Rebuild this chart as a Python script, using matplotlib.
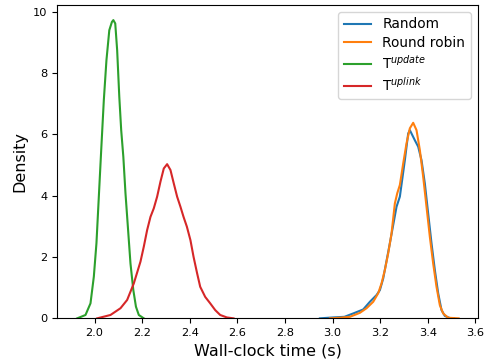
import matplotlib
matplotlib.use("Agg")
import matplotlib.pyplot as plt

# density curves (x in seconds, y = density)
random_x = [2.947, 3.003, 3.050, 3.087, 3.129, 3.157, 3.185, 3.199, 3.213, 3.241,
            3.269, 3.283, 3.304, 3.318, 3.325, 3.346, 3.360, 3.374, 3.388, 3.402,
            3.416, 3.430, 3.444, 3.458, 3.472, 3.493, 3.510]
random_y = [0.0, 0.03, 0.05, 0.16, 0.29, 0.54, 0.76, 0.92, 1.30, 2.45,
            3.64, 3.97, 5.16, 6.03, 6.14, 5.81, 5.60, 5.16, 4.40, 3.42,
            2.45, 1.58, 0.82, 0.27, 0.08, 0.01, 0.0]

rr_x = [2.989, 3.031, 3.073, 3.115, 3.143, 3.171, 3.192, 3.206, 3.220, 3.234,
        3.248, 3.262, 3.272, 3.283, 3.297, 3.311, 3.325, 3.339, 3.353, 3.367,
        3.381, 3.395, 3.409, 3.423, 3.437, 3.451, 3.465, 3.486, 3.530]
rr_y = [0.0, 0.02, 0.05, 0.18, 0.33, 0.54, 0.82, 1.14, 1.58, 2.12,
        2.77, 3.75, 4.08, 4.35, 5.05, 5.71, 6.20, 6.38, 6.14, 5.49,
        4.62, 3.64, 2.66, 1.79, 1.03, 0.43, 0.16, 0.02, 0.0]

update_x = [1.927, 1.962, 1.983, 1.997, 2.008, 2.018, 2.028, 2.039, 2.050, 2.062,
            2.073, 2.079, 2.087, 2.095, 2.104, 2.112, 2.121, 2.130, 2.140, 2.151,
            2.163, 2.174, 2.186, 2.207]
update_y = [0.0, 0.11, 0.49, 1.36, 2.45, 3.97, 5.49, 7.12, 8.42, 9.40,
            9.67, 9.73, 9.62, 8.75, 7.23, 6.14, 5.27, 4.08, 2.99, 1.79,
            0.92, 0.38, 0.11, 0.0]

uplink_x = [2.011, 2.067, 2.109, 2.137, 2.165, 2.193, 2.207, 2.221, 2.235, 2.249,
            2.263, 2.277, 2.291, 2.305, 2.319, 2.333, 2.347, 2.361, 2.374, 2.388,
            2.403, 2.416, 2.431, 2.444, 2.465, 2.486, 2.507, 2.528, 2.556, 2.584]
uplink_y = [0.0, 0.11, 0.33, 0.60, 1.14, 1.85, 2.34, 2.88, 3.31, 3.59,
            3.97, 4.46, 4.89, 5.03, 4.84, 4.40, 3.97, 3.64, 3.31, 2.99,
            2.55, 2.01, 1.47, 1.03, 0.70, 0.49, 0.27, 0.11, 0.03, 0.0]

labels = ["Random", "Round robin", r"T$^{update}$", r"T$^{uplink}$"]

fig = plt.figure(figsize=(4.95, 3.63), dpi=100)
ax = fig.add_axes([0.116, 0.123, 0.849, 0.863])

ax.plot(random_x, random_y, color="tab:blue", lw=1.5, label=labels[0])
ax.plot(rr_x, rr_y, color="tab:orange", lw=1.5, label=labels[1])
ax.plot(update_x, update_y, color="tab:green", lw=1.5, label=labels[2])
ax.plot(uplink_x, uplink_y, color="tab:red", lw=1.5, label=labels[3])

ax.set_xlim(1.844, 3.61)
ax.set_ylim(0, 10.22)
ax.set_xticks([2.0, 2.2, 2.4, 2.6, 2.8, 3.0, 3.2, 3.4, 3.6])
ax.set_yticks([0, 2, 4, 6, 8, 10])
ax.tick_params(labelsize=8.2)
ax.set_xlabel("Wall-clock time (s)", fontsize=11.5)
ax.set_ylabel("Density", fontsize=11.5)
ax.legend(loc="upper right", fontsize=9.9, labelspacing=0.3)

fig.savefig("out.png", dpi=100)
